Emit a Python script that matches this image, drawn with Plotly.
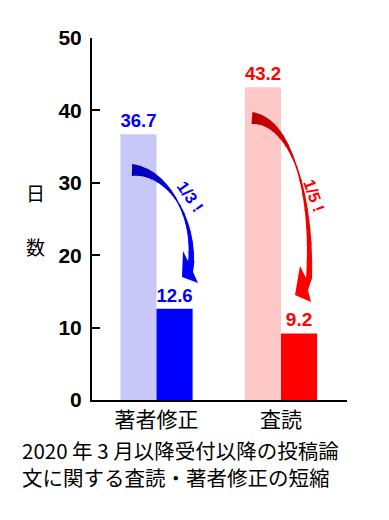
import numpy as np
import plotly.graph_objects as go

# ---- data ----
categories = ["著者修正", "査読"]
before_values = [36.7, 43.2]   # light bars
after_values = [12.6, 9.2]     # dark bars
before_colors = ["#c8c8f8", "#ffc8c8"]
after_colors = ["#0000ff", "#ff0000"]
ratio_labels = ["1/3 !", "1/5 !"]
y_ticks = [0, 10, 20, 30, 40, 50]
caption_lines = ["2020 年 3 月以降受付以降の投稿論", "文に関する査読・著者修正の短縮"]
y_title_chars = ["日", "数"]

W, H = 389, 520
L, R, T, B = 92, 42, 38, 120
X0, XS = 156.5, 124.5       # pixel of x=0, px per unit
Y0, YS = 400.0, 362 / 50    # pixel of y=0, px per unit
x_range = [(L - X0) / XS, (W - R - X0) / XS]

def to_data(px, py):
    return (px - X0) / XS, (Y0 - py) / YS

def to_paper(px, py):
    return (px - L) / (W - L - R), (H - B - py) / (H - T - B)

fig = go.Figure()
xs = list(range(len(categories)))
fig.add_bar(x=xs, y=before_values, marker_color=before_colors, marker_line_width=0,
            text=[f"{v:.1f}" for v in before_values], textposition="outside",
            textfont=dict(family="Liberation Sans", size=19, weight="bold", color=after_colors),
            cliponaxis=False, showlegend=False, hoverinfo="skip")
fig.add_bar(x=xs, y=after_values, marker_color=after_colors, marker_line_width=0,
            text=[f"{v:.1f}" for v in after_values], textposition="outside",
            textfont=dict(family="Liberation Sans", size=19, weight="bold", color=after_colors),
            cliponaxis=False, showlegend=False, hoverinfo="skip")

# ---- curved arrows (decoration) ----
def bez(P, t):
    P = np.asarray(P, float)
    return ((1 - t) ** 3)[:, None] * P[0] + (3 * (1 - t) ** 2 * t)[:, None] * P[1] + \
           (3 * (1 - t) * t ** 2)[:, None] * P[2] + (t ** 3)[:, None] * P[3]

def dbez(P, t):
    P = np.asarray(P, float)
    return (3 * (1 - t) ** 2)[:, None] * (P[1] - P[0]) + (6 * (1 - t) * t)[:, None] * (P[2] - P[1]) + \
           (3 * t ** 2)[:, None] * (P[3] - P[2])

def width(t, w0, wm, w1, tm):
    return np.where(t < tm, wm + (w0 - wm) * (1 - t / tm) ** 1.3,
                    wm + (w1 - wm) * ((t - tm) / (1 - tm)) ** 1.2)

def path_str(pts):
    d = [to_data(px, py) for px, py in pts]
    return "M " + " L ".join(f"{x:.5f},{y:.5f}" for x, y in d) + " Z"

def add_arrow(P, head, c0, c1, w0=12, wm=1.5, w1=6, tm=0.55, n=14):
    edges = np.linspace(0, 1, n + 1)
    for i in range(n):
        t = np.linspace(edges[i], min(1, edges[i + 1] + 0.012), 8)
        p = bez(P, t)
        d = dbez(P, t)
        nrm = np.stack([-d[:, 1], d[:, 0]], 1) / np.linalg.norm(d, axis=1)[:, None]
        w = width(t, w0, wm, w1, tm)[:, None] / 2
        left = p + nrm * w
        right = p - nrm * w
        pts = list(map(tuple, left)) + list(map(tuple, right[::-1]))
        f = (i + 0.5) / n
        col = tuple(int(round(a + (b - a) * f)) for a, b in zip(c0, c1))
        fig.add_shape(type="path", path=path_str(pts), fillcolor=f"rgb{col}",
                      line_width=0, xref="x", yref="y", layer="above")
    fig.add_shape(type="path", path=path_str(head), fillcolor=f"rgb{tuple(c1)}",
                  line_width=0, xref="x", yref="y", layer="above")

add_arrow([(132, 170), (165, 171), (194, 212), (191, 262)],
          [(183, 251), (188, 261), (194.5, 261), (193, 272), (198, 283), (182, 277)],
          (0, 0, 185), (0, 0, 255))
add_arrow([(252, 118), (290, 121), (313, 190), (309, 279)],
          [(300, 266), (306, 278), (312, 278), (308, 290), (311, 302), (295, 295)],
          (185, 0, 0), (255, 0, 0), w0=12, wm=1.5, w1=6, tm=0.5)

for lab, (px, py), ang, col in zip(ratio_labels, [(190, 196), (314, 195)], [55, 70], after_colors):
    x, y = to_data(px, py)
    fig.add_annotation(x=x, y=y, xref="x", yref="y", text=lab, showarrow=False, textangle=ang,
                       xanchor="center", yanchor="middle",
                       font=dict(family="Liberation Sans", size=16.5, weight="bold", color=col))

# y-axis title (stacked)
for ch, py in zip(y_title_chars, [192, 246]):
    x, y = to_paper(35, py)
    fig.add_annotation(x=x, y=y, xref="paper", yref="paper", text=ch, showarrow=False,
                       xanchor="center", yanchor="middle",
                       font=dict(family="Noto Sans CJK JP", size=19, color="black"))

# caption (two lines in one text block)
x, y = to_paper(21, 463)
fig.add_annotation(x=x, y=y, xref="paper", yref="paper", text="<br>".join(caption_lines),
                   showarrow=False, xanchor="left", yanchor="middle", align="left", borderpad=0,
                   font=dict(family="Noto Sans CJK JP", size=20.5, color="black"))

fig.update_layout(
    width=W, height=H, margin=dict(l=L, r=R, t=T, b=B, autoexpand=False),
    paper_bgcolor="white", plot_bgcolor="white",
    barmode="group", bargap=0.42, bargroupgap=0,
    xaxis=dict(range=x_range, tickvals=xs, ticktext=categories, showline=True,
               linecolor="black", linewidth=2, ticks="", showgrid=False, zeroline=False,
               tickfont=dict(family="Noto Sans CJK JP", size=21, color="black")),
    yaxis=dict(range=[0, 50], tickvals=y_ticks, showline=True, linecolor="black", linewidth=2,
               ticks="inside", ticklen=8, tickwidth=1.5, tickcolor="black",
               showgrid=False, zeroline=False, ticklabelstandoff=4,
               tickfont=dict(family="Liberation Sans", size=21, weight="bold", color="black")),
)

fig.write_html("out.html", config={"displayModeBar": False},
               post_script="document.body.style.margin='0';")
